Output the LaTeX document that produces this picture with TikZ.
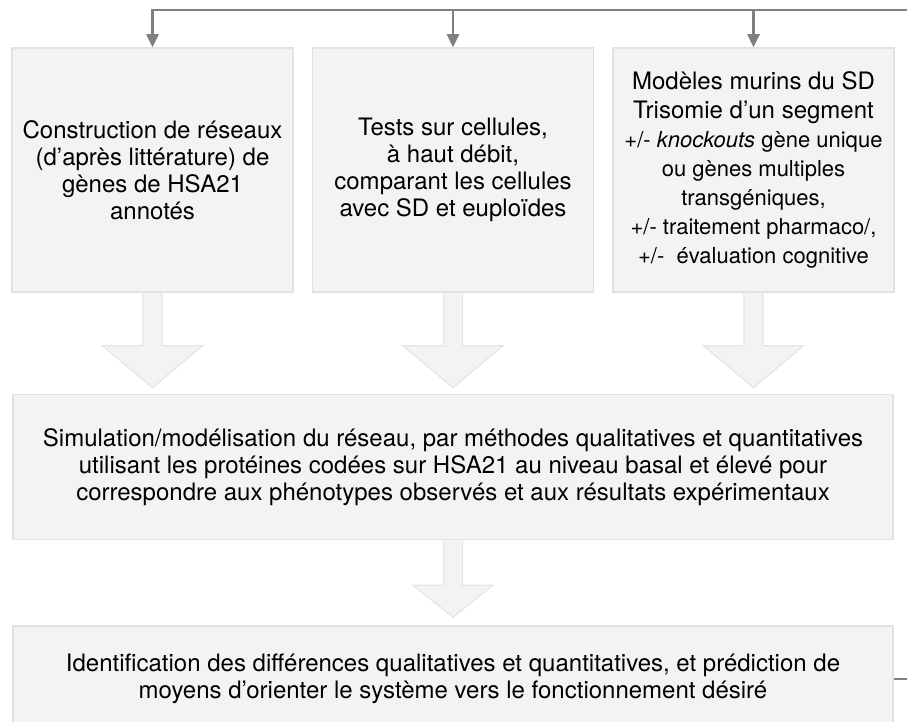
\documentclass[tikz,border=0pt]{standalone}
\usepackage{fontspec}
\setmainfont{TeX Gyre Heros}
\usetikzlibrary{positioning,calc,arrows.meta}
\definecolor{boxfill}{RGB}{243,243,243}
\definecolor{boxline}{RGB}{226,226,226}
\definecolor{arrowline}{RGB}{229,229,229}
\definecolor{linkgray}{RGB}{128,128,128}
\newcommand{\smalltxt}{\fontsize{22}{24}\selectfont}
% open block arrow: from, tip, half head width, head length
\newcommand{\bigarrow}[4]{%
  \filldraw[bigarrow] ($(#1)+(-9.5,0)$) -- ($(#2)+(-9.5,-#4)$) -- ($(#2)+(-#3,-#4)$) -- (#2)
    -- ($(#2)+(#3,-#4)$) -- ($(#2)+(9.5,-#4)$) -- ($(#1)+(9.5,0)$);}

\begin{document}
\begin{tikzpicture}[x=1pt, y=-1pt,
    every node/.style={align=center, font=\fontsize{24}{27}\selectfont},
    box/.style={draw=boxline, fill=boxfill, line width=1.5pt, inner sep=0pt},
    topbox/.style={box, minimum width=281pt, minimum height=244pt},
    widebox/.style={box, minimum width=880pt},
    bigarrow/.style={draw=arrowline, fill=boxfill, line width=1.2pt},
    link/.style={draw=linkgray, line width=2.5pt, -{Triangle[length=13pt,width=12pt]}}]

    \useasboundingbox (0,0) rectangle (907,722);
    \clip (0,0) rectangle (907,722);

    % Top row
    \node[topbox] (b1) at (152.5,170) {Construction de réseaux\\(d’après littérature) de\\gènes de HSA21\\annotés};
    \node[topbox, right=18pt of b1] (b2) {Tests sur cellules,\\à haut débit,\\comparant les cellules\\avec SD et euploïdes};
    \node[topbox, right=18pt of b2, font=\fontsize{24}{29}\selectfont] (b3) {Modèles murins du SD\\Trisomie d’un segment\\
        \smalltxt +/- \textit{knockouts} gène unique\\\smalltxt ou gènes multiples\\\smalltxt transgéniques,\\
        \smalltxt +/- traitement pharmaco/,\\\smalltxt +/-\ \ évaluation cognitive};

    % Middle and bottom
    \node[widebox, minimum height=145pt, below=101pt of b2] (mid) {Simulation/modélisation du réseau, par méthodes qualitatives et quantitatives\\
        utilisant les protéines codées sur HSA21 au niveau basal et élevé pour\\
        correspondre aux phénotypes observés et aux résultats expérimentaux};
    \node[widebox, minimum height=106pt, below=85pt of mid] (bot) {Identification des différences qualitatives et quantitatives, et prédiction de\\
        moyens d’orienter le système vers le fonctionnement désiré};

    % Block arrows
    \coordinate (t1) at ([yshift=6pt]b1.south |- mid.north);
    \coordinate (t2) at ([yshift=6pt]b2.south |- mid.north);
    \coordinate (t3) at ([yshift=6pt]b3.south |- mid.north);
    \coordinate (t4) at ([yshift=8pt]bot.north);
    \bigarrow{b1.south}{t1}{50}{42}
    \bigarrow{b2.south}{t2}{50}{42}
    \bigarrow{b3.south}{t3}{50}{42}
    \bigarrow{mid.south}{t4}{40}{32}

    % Feedback loop
    \coordinate (turn) at (930,10);
    \draw[link] (bot.east) -| (turn) -| (b1.north);
    \draw[link] (b2.north |- turn) -- (b2.north);
    \draw[link] (b3.north |- turn) -- (b3.north);

\end{tikzpicture}
\end{document}
